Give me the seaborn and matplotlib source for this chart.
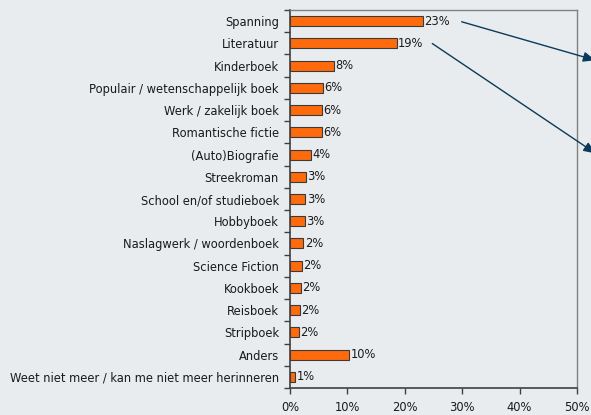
import matplotlib
matplotlib.use("Agg")
import matplotlib.pyplot as plt
import seaborn as sns
import pandas as pd
import numpy as np

categories = ["Spanning", "Literatuur", "Kinderboek", "Populair / wetenschappelijk boek",
              "Werk / zakelijk boek", "Romantische fictie", "(Auto)Biografie", "Streekroman",
              "School en/of studieboek", "Hobbyboek", "Naslagwerk / woordenboek",
              "Science Fiction", "Kookboek", "Reisboek", "Stripboek", "Anders",
              "Weet niet meer / kan me niet meer herinneren"]
values = [23.2, 18.6, 7.6, 5.8, 5.6, 5.6, 3.7, 2.8, 2.7, 2.6, 2.3, 2.1, 1.9, 1.7, 1.5, 10.3, 0.9]
labels = ["23%", "19%", "8%", "6%", "6%", "6%", "4%", "3%", "3%", "3%", "2%", "2%", "2%", "2%", "2%", "10%", "1%"]
xticks = [0, 10, 20, 30, 40, 50]
xticklabels = ["0%", "10%", "20%", "30%", "40%", "50%"]

df = pd.DataFrame({"cat": categories, "val": values})

bg = "#E9ECEE"
sns.set_theme(style="white")
plt.rcParams['font.family'] = ['DejaVu Sans']

fig = plt.figure(figsize=(5.91, 4.15), dpi=100, facecolor=bg)
ax = fig.add_axes([290/591, 1-388/415, (577-290)/591, (388-10)/415])
ax.set_facecolor(bg)

sns.barplot(data=df, x="val", y="cat", orient="h", color="#FF6A0D", saturation=1,
            width=0.45, edgecolor="#3A3A3A", linewidth=0.8, ax=ax)

fs = 8.3
for i, (v, lab) in enumerate(zip(values, labels)):
    ax.text(v + 0.25, i, lab, va="center", ha="left", fontsize=fs, color="#1a1a1a")

ax.set_xlim(0, 50)
ax.set_ylim(len(categories) - 0.5, -0.5)
ax.set_xticks(xticks)
ax.set_xticklabels(xticklabels, fontsize=fs, color="#1a1a1a")
ax.set_yticks(range(len(categories)))
ax.set_yticklabels(categories, fontsize=fs, color="#1a1a1a")
ax.set_yticks(np.arange(-0.5, len(categories), 1), minor=True)
ax.tick_params(axis="y", which="major", left=False, length=0, pad=8)
ax.tick_params(axis="y", which="minor", left=True, length=4, width=1, color="#404040", direction="out")
ax.tick_params(axis="x", which="major", bottom=True, length=4, width=1, color="#404040", direction="out", pad=5)
ax.set_xlabel("")
ax.set_ylabel("")
for s in ["left", "bottom"]:
    ax.spines[s].set_color("#404040")
    ax.spines[s].set_linewidth(1.2)
for s in ["top", "right"]:
    ax.spines[s].set_color("#808080")
    ax.spines[s].set_linewidth(1)

# callout arrows (decorative)
arrow_kw = dict(arrowstyle="-|>,head_length=0.6,head_width=0.25", color="#0B3A5A", lw=1)
ax.annotate("", xy=(598/591, 1-61/415), xytext=(459/591, 1-21/415),
            xycoords="figure fraction", textcoords="figure fraction", arrowprops=arrow_kw,
            annotation_clip=False)
ax.annotate("", xy=(598/591, 1-155/415), xytext=(430/591, 1-42/415),
            xycoords="figure fraction", textcoords="figure fraction", arrowprops=arrow_kw,
            annotation_clip=False)

fig.savefig("out.png", dpi=100, facecolor=bg)
